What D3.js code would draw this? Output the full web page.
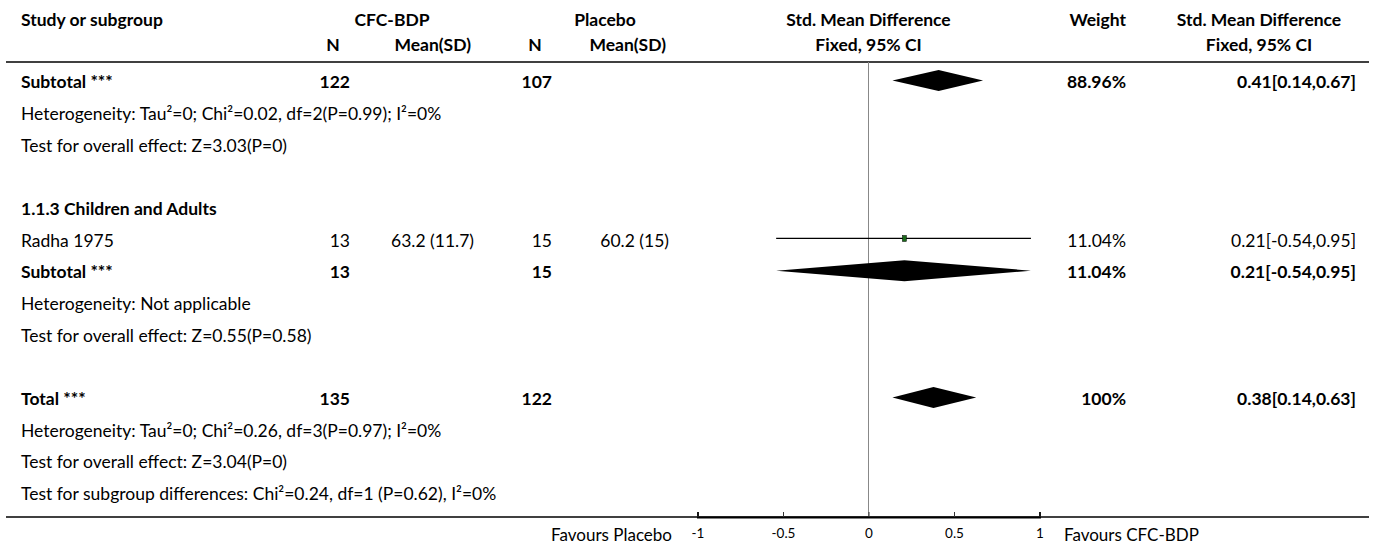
<!DOCTYPE html>
<html>
<head>
  <meta charset="utf-8">
  <script src="https://d3js.org/d3.v7.min.js"></script>
  <style>
    body { margin: 0; background: #fff; }
    svg text { font-family: Lato, "Open Sans", sans-serif; font-size: 17.5px; fill: #000; }
    .b { font-weight: bold; }
  </style>
</head>
<body>
<script>
// study rows
var studies = ["Radha 1975"];
var studyNE = [13];
var studyMeanE = ["63.2 (11.7)"];
var studyNC = [15];
var studyMeanC = ["60.2 (15)"];
var studySMD = [0.21];
var studyLo = [-0.54];
var studyHi = [0.95];
var studyWeight = ["11.04%"];
var studyCI = ["0.21[-0.54,0.95]"];

// pooled rows
var poolLabels = ["Subtotal ***", "Subtotal ***", "Total ***"];
var poolNE = [122, 13, 135];
var poolNC = [107, 15, 122];
var poolSMD = [0.41, 0.21, 0.38];
var poolLo = [0.14, -0.54, 0.14];
var poolHi = [0.67, 0.95, 0.63];
var poolWeight = ["88.96%", "11.04%", "100%"];
var poolCI = ["0.41[0.14,0.67]", "0.21[-0.54,0.95]", "0.38[0.14,0.63]"];

var groupTitles = ["1.1.3 Children and Adults"];
var notes = [
  "Heterogeneity: Tau\u00b2=0; Chi\u00b2=0.02, df=2(P=0.99); I\u00b2=0%",
  "Test for overall effect: Z=3.03(P=0)",
  "Heterogeneity: Not applicable",
  "Test for overall effect: Z=0.55(P=0.58)",
  "Heterogeneity: Tau\u00b2=0; Chi\u00b2=0.26, df=3(P=0.97); I\u00b2=0%",
  "Test for overall effect: Z=3.04(P=0)",
  "Test for subgroup differences: Chi\u00b2=0.24, df=1 (P=0.62), I\u00b2=0%"
];
var ticks = [-1, -0.5, 0, 0.5, 1];

// row slots for each kind of line
var poolRow = [0, 6, 10];
var studyRow = [5];
var groupRow = [4];
var noteRow = [1, 2, 7, 8, 11, 12, 13];

var W = 1375, H = 547;
var svg = d3.select("body").append("svg").attr("width", W).attr("height", H);

var x = d3.scaleLinear().domain([-1, 1]).range([697.5, 1039.5]);
var y = d3.scaleLinear().domain([0, 13]).range([82, 494]);
var axisY = 517;

var col = { label: 21, ne: 350, me: 474, nc: 552, mc: 669, w: 1126, ci: 1356 };

function txt(xp, yp, s, anchor, cls, size) {
  var t = svg.append("text").attr("x", xp).attr("y", yp).attr("dy", "0.35em")
    .attr("text-anchor", anchor || "start").attr("class", cls || null).text(s);
  if (size) t.style("font-size", size + "px");
  return t;
}

// header
var h1 = 20, h2 = 45;
txt(col.label, h1, "Study or subgroup", "start", "b");
txt(392, h1, "CFC-BDP", "middle", "b");
txt(605, h1, "Placebo", "middle", "b");
txt(x(0), h1, "Std. Mean Difference", "middle", "b");
txt(col.w, h1, "Weight", "end", "b");
txt(1259, h1, "Std. Mean Difference", "middle", "b");
txt(col.ne - 17, h2, "N", "middle", "b");
txt(col.me - 3, h2, "Mean(SD)", "end", "b");
txt(col.nc - 17, h2, "N", "middle", "b");
txt(col.mc - 3, h2, "Mean(SD)", "end", "b");
txt(x(0), h2, "Fixed, 95% CI", "middle", "b");
txt(1259, h2, "Fixed, 95% CI", "middle", "b");

svg.append("line").attr("x1", 6).attr("x2", 1369).attr("y1", 62).attr("y2", 62)
  .attr("stroke", "#000").attr("stroke-width", 1.5);

// zero line
svg.append("line").attr("x1", x(0)).attr("x2", x(0)).attr("y1", 62).attr("y2", axisY)
  .attr("stroke", "#888").attr("stroke-width", 1);

// group titles and notes
groupTitles.forEach(function (g, i) { txt(col.label, y(groupRow[i]), g, "start", "b"); });
notes.forEach(function (n, i) { txt(col.label, y(noteRow[i]), n); });

// studies
studies.forEach(function (s, i) {
  var yy = y(studyRow[i]);
  txt(col.label, yy, s);
  txt(col.ne, yy, studyNE[i], "end");
  txt(col.me, yy, studyMeanE[i], "end");
  txt(col.nc, yy, studyNC[i], "end");
  txt(col.mc, yy, studyMeanC[i], "end");
  txt(col.w, yy, studyWeight[i], "end");
  txt(col.ci, yy, studyCI[i], "end");
  var ly = yy - 2;
  svg.append("line").attr("x1", x(studyLo[i])).attr("x2", x(studyHi[i]))
    .attr("y1", ly).attr("y2", ly).attr("stroke", "#000").attr("stroke-width", 1.2);
  svg.append("rect").attr("x", x(studySMD[i]) - 2).attr("y", ly - 3).attr("width", 4).attr("height", 6)
    .attr("fill", "#1a6b1a").attr("stroke", "#000").attr("stroke-width", 0.5);
});

// pooled
poolLabels.forEach(function (s, i) {
  var yy = y(poolRow[i]);
  txt(col.label, yy, s, "start", "b");
  txt(col.ne, yy, poolNE[i], "end", "b");
  txt(col.nc, yy, poolNC[i], "end", "b");
  txt(col.w, yy, poolWeight[i], "end", "b");
  txt(col.ci, yy, poolCI[i], "end", "b");
  var cy = yy - 1.5;
  svg.append("path")
    .attr("d", "M" + x(poolLo[i]) + "," + cy + "L" + x(poolSMD[i]) + "," + (cy - 10.5) +
      "L" + x(poolHi[i]) + "," + cy + "L" + x(poolSMD[i]) + "," + (cy + 10.5) + "Z")
    .attr("fill", "#000");
});

// bottom rule and axis
svg.append("line").attr("x1", 6).attr("x2", 1369).attr("y1", axisY).attr("y2", axisY)
  .attr("stroke", "#000").attr("stroke-width", 1.5);
var ax = svg.append("g").attr("transform", "translate(0," + axisY + ")")
  .call(d3.axisTop(x).tickValues(ticks).tickSize(5).tickFormat(function (d) { return String(d); }));
ax.select(".domain").attr("stroke", "#000").attr("stroke-width", 2);
ax.selectAll(".tick line").attr("stroke", "#333");
ax.selectAll(".tick text").attr("y", 16).attr("dy", "0.35em")
  .style("font-size", "13.5px").style("font-family", "Lato, sans-serif").attr("fill", "#222");
txt(672, 535, "Favours Placebo", "end", null, 17);
txt(1064, 535, "Favours CFC-BDP", "start", null, 17);
</script>
</body>
</html>
